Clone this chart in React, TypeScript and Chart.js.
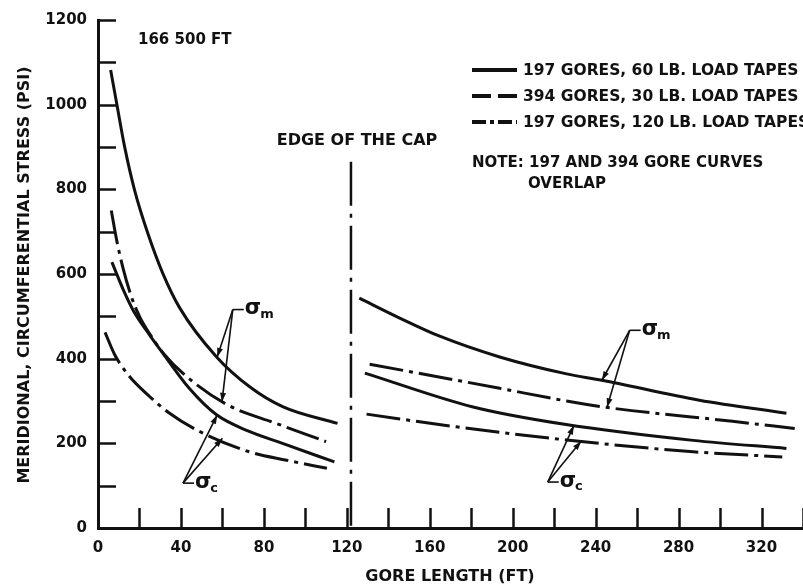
import { useEffect, useRef } from "react";
import { Chart, registerables } from "chart.js";

Chart.register(...registerables);

const FONT = '"DejaVu Sans", "Noto Sans", sans-serif';
const INK = "#111";

// Gore length (ft) / stress (psi) samples — cap region
const capMerSolidX = [6.1, 9.3, 12.9, 17.7, 24.1, 31.3, 39.4, 57.2, 73.3, 89.3, 115.5];
const capMerSolidY = [1082, 995, 899, 797, 695, 601, 520, 404, 333, 286, 247];
const capMerDashDotX = [6.4, 9, 12, 16, 20, 25, 32, 41, 62, 86, 110];
const capMerDashDotY = [750, 680, 615, 548, 500, 458, 410, 365, 292, 247, 204];
const capCircSolidX = [6.7, 12, 17, 25, 32, 44, 57, 72, 89, 114];
const capCircSolidY = [628, 565, 514, 455, 408, 330, 268, 230, 200, 156];
const capCircDashDotX = [3.4, 8, 14.5, 25, 34, 49, 73, 91, 110.4];
const capCircDashDotY = [462, 410, 362, 310, 273, 228, 180, 160, 141];

// Gore length (ft) / stress (psi) samples — beyond the cap
const outMerSolidX = [126, 145.5, 164.8, 193.7, 226, 243, 290, 332];
const outMerSolidY = [543, 496, 453, 404, 364, 349, 302, 271];
const outMerDashDotX = [131, 193.7, 226, 245, 306, 336];
const outMerDashDotY = [387, 330, 300, 285, 252, 235];
const outCircSolidX = [128.7, 180.9, 225, 287, 332];
const outCircSolidY = [366, 286, 245, 207, 188];
const outCircDashDotX = [129.5, 172.8, 226, 287, 330];
const outCircDashDotY = [269, 239, 208, 180, 168];

// Axis labelling
const xLabelValues = [0, 40, 80, 120, 160, 200, 240, 280, 320];
const yLabelValues = [0, 200, 400, 600, 800, 1000, 1200];

// Edge of the cap marker (ft, and top of the marker in psi)
const capEdgeX = 122;
const capMarkerTop = 865;

// Sigma callouts: corner of the leader, and points on the curves it points to
const calloutSubs = ["m", "c", "m", "c"];
const calloutCorners = [
  [65, 516],
  [41, 106],
  [256.4, 467],
  [216.9, 108.5],
];
const calloutTips = [
  [[57.5, 404], [59.8, 298]],
  [[57.5, 267], [60, 212]],
  [[243, 349], [245.5, 285]],
  [[229.5, 242], [233, 205]],
];

const legendLabels = [
  "197 GORES, 60 LB. LOAD TAPES",
  "394 GORES, 30 LB. LOAD TAPES",
  "197 GORES, 120 LB. LOAD TAPES",
];
const legendDashes = [[], [19, 7], [14, 4, 4, 4]];

const CURVE_DASH_DOT = [34, 6, 4, 6];

const pts = (xs: number[], ys: number[]) => xs.map((x, i) => ({ x, y: ys[i] }));

const curve = (xs: number[], ys: number[], dashed: boolean) => ({
  data: pts(xs, ys),
  borderColor: INK,
  borderWidth: 3,
  borderDash: dashed ? CURVE_DASH_DOT : [],
  pointRadius: 0,
  fill: false,
  cubicInterpolationMode: "monotone" as const,
});

function arrowHead(ctx: CanvasRenderingContext2D, fx: number, fy: number, tx: number, ty: number) {
  const a = Math.atan2(ty - fy, tx - fx);
  const len = 9;
  const half = 3;
  ctx.beginPath();
  ctx.moveTo(tx, ty);
  ctx.lineTo(tx - len * Math.cos(a) + half * Math.sin(a), ty - len * Math.sin(a) - half * Math.cos(a));
  ctx.lineTo(tx - len * Math.cos(a) - half * Math.sin(a), ty - len * Math.sin(a) + half * Math.cos(a));
  ctx.closePath();
  ctx.fill();
}

const decorPlugin = {
  id: "decor",
  afterDatasetsDraw(chart: any) {
    const { ctx, chartArea, scales } = chart;
    const xs = scales.x;
    const ys = scales.y;
    ctx.save();
    ctx.strokeStyle = INK;
    ctx.fillStyle = INK;
    ctx.setLineDash([]);

    // inward tick marks
    ctx.lineWidth = 2.5;
    ys.ticks.forEach((t: any) => {
      if (t.value <= 0) return;
      const py = Math.round(ys.getPixelForValue(t.value)) + 0.5;
      ctx.beginPath();
      ctx.moveTo(chartArea.left, py);
      ctx.lineTo(chartArea.left + 18, py);
      ctx.stroke();
    });
    xs.ticks.forEach((t: any) => {
      if (t.value <= 0) return;
      const px = Math.round(xs.getPixelForValue(t.value)) + 0.5;
      ctx.beginPath();
      ctx.moveTo(px, chartArea.bottom);
      ctx.lineTo(px, chartArea.bottom - 20);
      ctx.stroke();
    });

    // edge of the cap marker
    const cx = xs.getPixelForValue(capEdgeX);
    ctx.lineWidth = 2.5;
    ctx.setLineDash([44, 8, 4, 8]);
    ctx.beginPath();
    ctx.moveTo(cx, ys.getPixelForValue(capMarkerTop));
    ctx.lineTo(cx, ys.getPixelForValue(0));
    ctx.stroke();
    ctx.setLineDash([]);

    // sigma callouts
    calloutCorners.forEach((c, i) => {
      const px = xs.getPixelForValue(c[0]);
      const py = ys.getPixelForValue(c[1]);
      ctx.lineWidth = 1.6;
      calloutTips[i].forEach((tip) => {
        const tx = xs.getPixelForValue(tip[0]);
        const ty = ys.getPixelForValue(tip[1]);
        ctx.beginPath();
        ctx.moveTo(px, py);
        ctx.lineTo(tx, ty);
        ctx.stroke();
        arrowHead(ctx, px, py, tx, ty);
      });
      ctx.beginPath();
      ctx.moveTo(px, py);
      ctx.lineTo(px + 11, py);
      ctx.stroke();
      ctx.textAlign = "left";
      ctx.textBaseline = "middle";
      ctx.font = `bold 21px ${FONT}`;
      ctx.fillText("σ", px + 12, py - 1);
      const w = ctx.measureText("σ").width;
      ctx.font = `bold 13px ${FONT}`;
      ctx.fillText(calloutSubs[i], px + 12 + w - 1, py + 5);
    });

    // text annotations
    ctx.textBaseline = "middle";
    ctx.textAlign = "left";
    ctx.font = `bold 15px ${FONT}`;
    ctx.fillText("166 500 FT", 138, 40);
    ctx.textAlign = "center";
    ctx.font = `bold 16px ${FONT}`;
    ctx.fillText("EDGE OF THE CAP", 357, 141);

    // legend
    const rowY = [70, 96, 122];
    legendLabels.forEach((label, i) => {
      ctx.lineWidth = 4;
      ctx.setLineDash(legendDashes[i]);
      ctx.beginPath();
      ctx.moveTo(472, rowY[i]);
      ctx.lineTo(517, rowY[i]);
      ctx.stroke();
      ctx.setLineDash([]);
      ctx.textAlign = "left";
      ctx.font = `bold 15.5px ${FONT}`;
      ctx.fillText(label, 523, rowY[i] + 1);
    });
    ctx.font = `bold 15px ${FONT}`;
    ctx.fillText("NOTE: 197 AND 394 GORE CURVES", 472, 163);
    ctx.fillText("OVERLAP", 528, 184);

    // axis titles
    ctx.font = `bold 16px ${FONT}`;
    ctx.textAlign = "center";
    ctx.fillText("GORE LENGTH (FT)", 450, 577);
    ctx.save();
    ctx.translate(25, 275);
    ctx.rotate(-Math.PI / 2);
    ctx.fillText("MERIDIONAL, CIRCUMFERENTIAL STRESS (PSI)", 0, 0);
    ctx.restore();

    ctx.restore();
  },
};

export default function App() {
  const ref = useRef<HTMLCanvasElement>(null);

  useEffect(() => {
    const canvas = ref.current;
    if (!canvas) return;
    const tickFont = { family: FONT, size: 15, weight: "bold" as const };
    const chart = new Chart(canvas, {
      type: "line",
      data: {
        datasets: [
          curve(capMerSolidX, capMerSolidY, false),
          curve(capMerDashDotX, capMerDashDotY, true),
          curve(capCircSolidX, capCircSolidY, false),
          curve(capCircDashDotX, capCircDashDotY, true),
          curve(outMerSolidX, outMerSolidY, false),
          curve(outMerDashDotX, outMerDashDotY, true),
          curve(outCircSolidX, outCircSolidY, false),
          curve(outCircDashDotX, outCircDashDotY, true),
        ],
      },
      options: {
        animation: false,
        responsive: false,
        events: [],
        layout: { padding: { top: 20, left: 0, right: 0, bottom: 0 } },
        plugins: {
          legend: { display: false },
          tooltip: { enabled: false },
          title: { display: false },
        },
        scales: {
          x: {
            type: "linear",
            min: 0,
            max: 340,
            afterFit: (s: any) => {
              s.height = 60;
            },
            grid: { display: false, drawTicks: true, tickLength: 11 },
            border: { display: true, width: 3, color: INK },
            ticks: {
              stepSize: 20,
              autoSkip: false,
              maxRotation: 0,
              padding: 0,
              color: INK,
              font: tickFont,
              callback: (v: any) => (xLabelValues.includes(Number(v)) ? String(v) : ""),
            },
          },
          y: {
            type: "linear",
            min: 0,
            max: 1200,
            afterFit: (s: any) => {
              s.width = 98;
            },
            grid: { display: false, drawTicks: true, tickLength: 11 },
            border: { display: true, width: 3, color: INK },
            ticks: {
              stepSize: 100,
              autoSkip: false,
              padding: 0,
              color: INK,
              font: tickFont,
              callback: (v: any) => (yLabelValues.includes(Number(v)) ? String(v) : ""),
            },
          },
        },
      },
      plugins: [decorPlugin],
    });
    return () => chart.destroy();
  }, []);

  return (
    <div style={{ position: "fixed", left: 0, top: 0, width: 803, height: 588, background: "#fff" }}>
      <canvas ref={ref} width={803} height={588} style={{ display: "block", width: 803, height: 588 }} />
    </div>
  );
}
